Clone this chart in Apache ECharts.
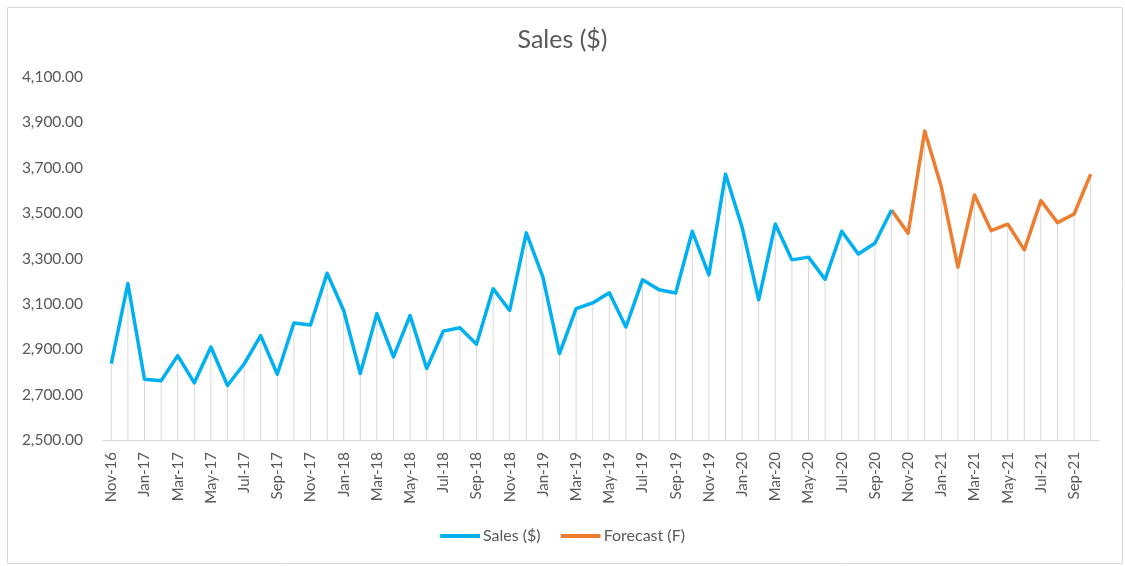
<!DOCTYPE html>
<html>
<head>
<meta charset="utf-8">
<script src="https://cdn.jsdelivr.net/npm/echarts@6/dist/echarts.min.js"></script>
<style>
html,body{margin:0;padding:0;background:#fff;}
#chart{width:1125px;height:566px;}
</style>
</head>
<body>
<div id="chart"></div>
<script>
const categories = [
  'Nov-16','Dec-16','Jan-17','Feb-17','Mar-17','Apr-17','May-17','Jun-17','Jul-17','Aug-17','Sep-17','Oct-17',
  'Nov-17','Dec-17','Jan-18','Feb-18','Mar-18','Apr-18','May-18','Jun-18','Jul-18','Aug-18','Sep-18','Oct-18',
  'Nov-18','Dec-18','Jan-19','Feb-19','Mar-19','Apr-19','May-19','Jun-19','Jul-19','Aug-19','Sep-19','Oct-19',
  'Nov-19','Dec-19','Jan-20','Feb-20','Mar-20','Apr-20','May-20','Jun-20','Jul-20','Aug-20','Sep-20','Oct-20',
  'Nov-20','Dec-20','Jan-21','Feb-21','Mar-21','Apr-21','May-21','Jun-21','Jul-21','Aug-21','Sep-21','Oct-21'
];
// Actual sales, Nov-16 .. Oct-20
const salesValues = [
  2837, 3190, 2768, 2761, 2872, 2752, 2910, 2740, 2835, 2960, 2790, 3016,
  3007, 3235, 3071, 2793, 3057, 2866, 3049, 2815, 2980, 2995, 2922, 3167,
  3071, 3413, 3218, 2881, 3079, 3104, 3149, 2998, 3206, 3162, 3148, 3420,
  3228, 3672, 3438, 3118, 3452, 3294, 3306, 3208, 3420, 3320, 3367, 3514
];
// Forecast, Oct-20 .. Oct-21 (starts at last actual value)
const forecastStart = 'Oct-20';
const forecastValues = [
  3514, 3411, 3862, 3616, 3262, 3580, 3423, 3452, 3338, 3555, 3458, 3496, 3672
];
const yTicks = { min: 2500, max: 4100, interval: 200 };

const startIdx = categories.indexOf(forecastStart);
const salesSeries = categories.map((c, i) => i < salesValues.length ? salesValues[i] : null);
const forecastSeries = categories.map((c, i) => i >= startIdx ? forecastValues[i - startIdx] : null);
const dropSeries = categories.map((c, i) => i >= startIdx ? forecastValues[i - startIdx] : salesValues[i]);

const FONT = 'Lato, "Open Sans", sans-serif';
const chart = echarts.init(document.getElementById('chart'), null, { renderer: 'canvas' });
chart.setOption({
  animation: false,
  backgroundColor: '#ffffff',
  textStyle: { fontFamily: FONT },
  graphic: [{
    type: 'rect', left: 5, top: 5, shape: { width: 1115, height: 556 },
    style: { fill: 'none', stroke: '#d9d9d9', lineWidth: 1 }, silent: true, z: -1
  }],
  title: {
    text: 'Sales ($)', left: 'center', top: 22,
    textStyle: { fontFamily: FONT, fontSize: 25, fontWeight: 'normal', color: '#595959' }
  },
  legend: {
    data: ['Sales ($)', 'Forecast (F)'], top: 523, left: 'center',
    itemWidth: 40, itemHeight: 4, itemGap: 20,
    icon: 'roundRect',
    textStyle: { fontFamily: FONT, fontSize: 16, color: '#595959', padding: [0, 0, 0, -2] }
  },
  grid: { left: 103, right: 26, top: 77, bottom: 126, containLabel: false },
  xAxis: {
    type: 'category', data: categories, boundaryGap: true,
    axisLine: { lineStyle: { color: '#d9d9d9', width: 1 } },
    axisTick: { interval: 1, length: 5, lineStyle: { color: '#d9d9d9' } },
    axisLabel: { interval: 1, rotate: 90, color: '#595959', fontSize: 15, fontFamily: FONT, margin: 12 },
    splitLine: { show: false }
  },
  yAxis: {
    type: 'value', min: yTicks.min, max: yTicks.max, interval: yTicks.interval,
    axisLine: { show: false }, axisTick: { show: false },
    splitLine: { show: false },
    axisLabel: {
      color: '#595959', fontSize: 15.5, fontFamily: FONT, margin: 20,
      formatter: v => v.toLocaleString('en-US', { minimumFractionDigits: 2, maximumFractionDigits: 2 })
    }
  },
  series: [
    {
      name: 'drop', type: 'bar', data: dropSeries, barWidth: 1, silent: true,
      itemStyle: { color: '#d9d9d9' }, z: 1, legendHoverLink: false
    },
    {
      name: 'Sales ($)', type: 'line', data: salesSeries, showSymbol: false, symbol: 'none',
      lineStyle: { color: '#00B0F0', width: 3.5, join: 'round' }, itemStyle: { color: '#00B0F0' }, z: 3
    },
    {
      name: 'Forecast (F)', type: 'line', data: forecastSeries, showSymbol: false, symbol: 'none',
      lineStyle: { color: '#ED7D31', width: 3.5, join: 'round' }, itemStyle: { color: '#ED7D31' }, z: 2
    }
  ]
});
</script>
</body>
</html>
